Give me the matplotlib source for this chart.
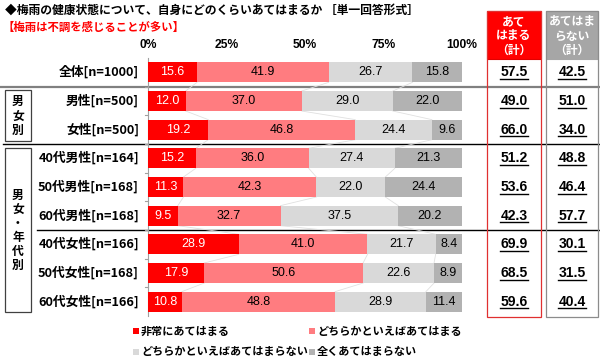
import matplotlib
matplotlib.use('Agg')
import matplotlib.pyplot as plt
from matplotlib import transforms
from matplotlib.patches import Rectangle
from matplotlib.lines import Line2D
import numpy as np

plt.rcParams['font.family'] = ['Noto Sans CJK JP', 'DejaVu Sans']
NUM_FONT = ['Liberation Sans', 'DejaVu Sans']

categories = ['全体[n=1000]', '男性[n=500]', '女性[n=500]',
              '40代男性[n=164]', '50代男性[n=168]', '60代男性[n=168]',
              '40代女性[n=166]', '50代女性[n=168]', '60代女性[n=166]']
very = [15.6, 12.0, 19.2, 15.2, 11.3, 9.5, 28.9, 17.9, 10.8]
somewhat = [41.9, 37.0, 46.8, 36.0, 42.3, 32.7, 41.0, 50.6, 48.8]
somewhat_not = [26.7, 29.0, 24.4, 27.4, 22.0, 37.5, 21.7, 22.6, 28.9]
not_at_all = [15.8, 22.0, 9.6, 21.3, 24.4, 20.2, 8.4, 8.9, 11.4]
applies_total = [57.5, 49.0, 66.0, 51.2, 53.6, 42.3, 69.9, 68.5, 59.6]
not_applies_total = [42.5, 51.0, 34.0, 48.8, 46.4, 57.7, 30.1, 31.5, 40.4]
series_names = ['非常にあてはまる', 'どちらかといえばあてはまる',
                'どちらかといえばあてはまらない', '全くあてはまらない']
colors = ['#ff0000', '#ff7c80', '#d9d9d9', '#b2b2b2']
ticks = [0, 25, 50, 75, 100]
tick_labels = ['0%', '25%', '50%', '75%', '100%']
title = '◆梅雨の健康状態について、自身にどのくらいあてはまるか ［単一回答形式］'
subtitle = '【梅雨は不調を感じることが多い】'
header_yes = 'あて\nはまる\n（計）'
header_no = 'あてはま\nらない\n（計）'
group1 = '男\n女\n別'
group2 = '男\n女\n・\n年\n代\n別'

W, H = 600, 364
fig = plt.figure(figsize=(W / 100, H / 100), dpi=100)

def fx(px):
    return px / W

def fy(py):
    return 1 - py / H

ax = fig.add_axes([fx(148), fy(316), fx(462) - fx(148), fy(58) - fy(316)])
n = len(categories)
y = np.arange(n)
bar_h = 0.7
data = [very, somewhat, somewhat_not, not_at_all]
left = np.zeros(n)
for k, (vals, col) in enumerate(zip(data, colors)):
    vals = np.array(vals)
    ax.barh(y, vals, left=left, height=bar_h, color=col, edgecolor='none', zorder=3)
    for i in range(n):
        ax.text(left[i] + vals[i] / 2, y[i], f'{vals[i]:.1f}', ha='center', va='center',
                fontsize=9, family=NUM_FONT, color='white' if k == 0 else 'black', zorder=5)
    left = left + vals
    if k < 3:
        for i in range(n - 1):
            ax.plot([left[i], left[i + 1]], [y[i] + bar_h / 2, y[i + 1] - bar_h / 2],
                    color='#e0e0e0', lw=0.6, zorder=2)

ax.set_xlim(0, 100)
ax.set_ylim(n - 0.5, -0.5)
ax.set_yticks([])
ax.xaxis.tick_top()
ax.set_xticks(ticks)
ax.set_xticklabels(tick_labels, fontsize=8.7, fontweight='bold', family=NUM_FONT)
ax.tick_params(axis='x', length=0, pad=5)
for s in ['top', 'right', 'bottom']:
    ax.spines[s].set_visible(False)
ax.spines['left'].set_color('#a0a0a0')
ax.spines['left'].set_linewidth(0.8)
for b in np.arange(0.5, n - 0.5, 1.0):
    ax.plot([-1.0, 0], [b, b], color='#a0a0a0', lw=0.8, clip_on=False, zorder=4)

blend = transforms.blended_transform_factory(fig.transFigure, ax.transData)

for i, c in enumerate(categories):
    ax.text(fx(139), y[i], c, transform=blend, ha='right', va='center',
            fontsize=9.2, fontweight='bold', clip_on=False)

ax.add_line(Line2D([0, 1], [0.5, 0.5], transform=blend, color='#808080', lw=1.6, clip_on=False, zorder=1))
ax.add_line(Line2D([fx(3), 1], [2.5, 2.5], transform=blend, color='black', lw=1.0, clip_on=False, zorder=1))
ax.add_line(Line2D([fx(37), 1], [5.5, 5.5], transform=blend, color='black', lw=1.0, clip_on=False, zorder=1))

fig.add_artist(Rectangle((fx(5), fy(141)), fx(31) - fx(5), fy(90) - fy(141),
                         transform=fig.transFigure, fill=False, edgecolor='#404040', lw=0.9))
fig.add_artist(Rectangle((fx(5), fy(312)), fx(31) - fx(5), fy(148) - fy(312),
                         transform=fig.transFigure, fill=False, edgecolor='#404040', lw=0.9))
fig.text(fx(18), fy(116), group1, ha='center', va='center', fontsize=8.5,
         fontweight='bold', linespacing=1.15)
fig.text(fx(18), fy(230), group2, ha='center', va='center', fontsize=8.5,
         fontweight='bold', linespacing=1.1)

fig.add_artist(Rectangle((fx(487), fy(59)), fx(541) - fx(487), fy(11) - fy(59),
                         transform=fig.transFigure, facecolor='#ff0000', edgecolor='#e00000', lw=0.8))
fig.add_artist(Rectangle((fx(487), fy(317)), fx(541) - fx(487), fy(11) - fy(317),
                         transform=fig.transFigure, fill=False, edgecolor='#e03030', lw=0.9))
fig.add_artist(Rectangle((fx(546), fy(59)), fx(598) - fx(546), fy(11) - fy(59),
                         transform=fig.transFigure, facecolor='#a6a6a6', edgecolor='#a6a6a6', lw=0.8))
fig.add_artist(Rectangle((fx(546), fy(317)), fx(598) - fx(546), fy(11) - fy(317),
                         transform=fig.transFigure, fill=False, edgecolor='#8c8c8c', lw=0.9))
fig.text(fx(514), fy(36), header_yes, ha='center', va='center', fontsize=8.5,
         fontweight='bold', color='white', linespacing=1.15)
fig.text(fx(572), fy(36), header_no, ha='center', va='center', fontsize=8.5,
         fontweight='bold', color='white', linespacing=1.15)

value_texts = []
for i in range(n):
    t1 = ax.text(fx(514), y[i], f'{applies_total[i]:.1f}', transform=blend, ha='center',
                 va='center', fontsize=10, fontweight='bold', family=NUM_FONT, clip_on=False)
    t2 = ax.text(fx(572), y[i], f'{not_applies_total[i]:.1f}', transform=blend, ha='center',
                 va='center', fontsize=10, fontweight='bold', family=NUM_FONT, clip_on=False)
    value_texts += [t1, t2]

fig.text(fx(5), fy(10), title, ha='left', va='center', fontsize=8.5, fontweight='bold')
fig.text(fx(3), fy(27), subtitle, ha='left', va='center', fontsize=8.2,
         fontweight='bold', color='#ff0000')

leg_pos = [(136, 331), (312, 331), (136, 352), (312, 352)]
for (px, py), name, col in zip(leg_pos, series_names, colors):
    fig.add_artist(Rectangle((fx(px - 3), fy(py + 3)), fx(6), 6 / H,
                             transform=fig.transFigure, facecolor=col, edgecolor='none'))
    fig.text(fx(px + 5), fy(py), name, ha='left', va='center', fontsize=8, fontweight='bold')

fig.canvas.draw()
r = fig.canvas.get_renderer()
inv = fig.transFigure.inverted()
for t in value_texts:
    bb = t.get_window_extent(renderer=r)
    (x0, y0), (x1, _) = inv.transform([(bb.x0, bb.y0 + 0.5), (bb.x1, bb.y0 + 0.5)])
    fig.add_artist(Line2D([x0, x1], [y0, y0], transform=fig.transFigure, color='black', lw=1.0))

fig.savefig('out.png', dpi=100, facecolor='white')
